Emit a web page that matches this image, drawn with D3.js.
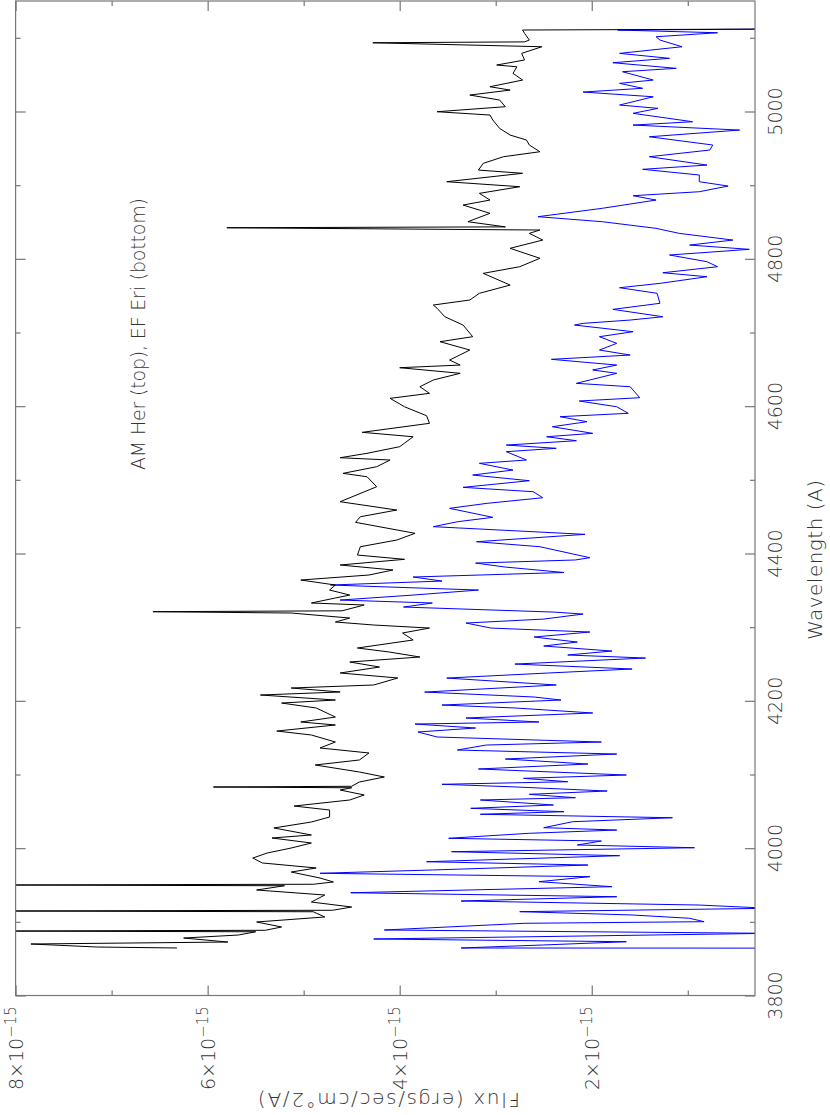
<!DOCTYPE html>
<html>
<head>
<meta charset="utf-8">
<script src="https://cdn.jsdelivr.net/npm/d3@7"></script>
<style>
  body { margin: 0; background: #fff; }
  svg { display: block; }
  text { font-family: "DejaVu Sans ExtraLight", "DejaVu Sans", sans-serif; font-weight: 200; fill: #333; }
</style>
</head>
<body>
<svg id="chart"></svg>
<script>
// AM Her spectrum (black, top)
const amHerWave = [3864.5,3865.8,3869.9,3872.6,3878.0,3882.1,3886.5,3887.5,3888.5,3893.0,3899.8,3906.6,3913.7,3914.7,3915.7,3920.1,3926.9,3936.4,3943.2,3949.0,3950.0,3951.0,3954.1,3959.5,3967.6,3973.1,3979.9,3986.6,3993.4,4000.2,4007.0,4013.8,4017.9,4027.4,4035.5,4042.3,4051.8,4057.2,4065.4,4072.2,4078.9,4082.0,4083.0,4084.0,4089.8,4096.6,4103.4,4112.9,4119.7,4129.2,4136.0,4144.1,4153.6,4159.0,4167.2,4171.3,4178.0,4190.3,4197.0,4201.1,4207.9,4212.0,4217.4,4221.5,4231.0,4237.8,4245.9,4252.7,4259.5,4266.3,4271.7,4282.6,4292.1,4298.8,4302.9,4307.0,4312.4,4319.2,4321.0,4322.2,4330.1,4332.8,4339.6,4343.6,4350.4,4357.2,4364.0,4370.8,4377.6,4384.4,4392.1,4397.9,4409.2,4418.3,4427.4,4442.3,4449.9,4459.0,4470.3,4490.6,4504.2,4508.8,4517.8,4526.9,4530.0,4536.0,4545.0,4558.5,4564.5,4576.7,4587.0,4599.2,4610.6,4617.4,4626.4,4635.5,4644.6,4652.2,4655.8,4662.6,4676.2,4687.5,4694.3,4710.1,4721.4,4732.8,4737.3,4744.1,4753.2,4764.4,4780.3,4789.3,4800.7,4814.3,4825.5,4834.6,4839.1,4842.2,4843.4,4850.4,4861.8,4873.0,4879.8,4888.9,4897.9,4904.7,4916.1,4920.5,4929.6,4938.6,4945.4,4954.5,4961.3,4968.0,4977.1,4988.4,4995.2,4999.7,5006.5,5015.6,5022.3,5029.1,5033.6,5042.7,5051.8,5060.7,5063.1,5069.9,5078.9,5087.9,5093.3,5094.5,5097.0,5106.1,5110.6,5112.0];
const amHerFlux = [6.32,7.15,7.84,5.79,6.25,5.68,5.5,8.3,5.4,5.23,5.49,4.78,4.9,8.3,4.7,4.50,4.92,4.78,5.49,5.2,8.3,4.9,4.69,4.83,5.13,4.87,5.43,5.53,5.38,5.13,4.92,5.33,4.92,5.31,4.92,4.73,4.73,5.10,4.52,4.37,4.62,4.5,5.94,4.5,4.42,4.16,4.42,4.88,4.42,4.32,4.83,4.67,4.92,5.28,4.67,5.03,4.67,4.87,5.23,4.67,5.45,4.62,5.13,4.27,4.02,4.62,4.21,4.52,3.79,4.11,4.44,3.86,3.97,3.69,4.27,4.67,4.52,5.13,6.57,4.6,4.37,4.92,4.67,4.52,4.73,4.67,5.03,4.32,4.07,4.62,3.95,4.44,4.41,4.03,3.84,4.46,4.41,4.03,4.62,4.24,4.34,4.59,4.24,4.10,4.62,4.34,4.00,3.86,4.39,3.69,3.72,3.95,4.10,3.69,3.79,3.65,3.37,4.00,3.37,3.48,3.27,3.58,3.24,3.34,3.53,3.61,3.65,3.27,3.17,2.85,3.13,2.75,2.54,2.85,2.51,2.65,2.54,5.80,2.9,3.29,3.06,3.34,3.06,3.17,2.75,3.51,2.72,3.18,3.13,2.92,2.54,2.65,2.68,2.85,2.96,3.03,3.06,3.61,2.90,2.96,3.27,2.85,3.06,2.72,2.82,2.78,2.99,2.70,2.73,2.52,4.28,2.7,2.65,2.70,2.72,0];

// EF Eri spectrum (blue, bottom)
const efEriWave = [3864.3,3864.5,3868.6,3873.0,3876.7,3884.4,3888.9,3898.0,3900.2,3904.8,3909.3,3913.8,3918.4,3922.8,3928.3,3934.1,3939.5,3947.7,3954.5,3961.3,3965.9,3970.4,3977.1,3981.6,3989.8,3995.2,4000.6,4004.3,4009.7,4013.4,4020.2,4024.6,4027.8,4035.9,4041.3,4046.0,4049.5,4054.1,4058.6,4065.4,4068.5,4073.1,4077.6,4083.4,4086.7,4090.2,4094.8,4099.3,4107.5,4114.2,4121.0,4127.8,4133.2,4140.0,4144.1,4150.9,4157.7,4163.1,4168.5,4171.3,4176.7,4183.5,4190.3,4194.3,4201.1,4205.2,4211.9,4221.5,4230.9,4237.8,4243.2,4249.9,4258.1,4262.2,4267.6,4274.4,4279.8,4286.6,4293.4,4298.8,4305.6,4311.0,4317.8,4320.5,4327.3,4332.8,4336.8,4343.6,4350.4,4357.2,4362.6,4368.1,4374.2,4381.6,4387.0,4391.2,4394.3,4409.2,4416.0,4426.0,4436.4,4443.1,4449.1,4461.3,4468.1,4475.7,4483.9,4489.8,4498.8,4506.5,4513.3,4522.4,4526.9,4538.2,4542.8,4547.2,4553.1,4558.5,4563.1,4572.1,4578.9,4585.7,4590.3,4599.2,4607.0,4611.5,4626.4,4631.0,4644.6,4649.1,4655.8,4663.6,4669.4,4676.2,4685.3,4694.3,4701.1,4710.1,4712.4,4716.9,4721.4,4731.4,4739.6,4753.2,4760.8,4766.7,4775.7,4781.1,4789.3,4796.1,4805.2,4812.9,4818.7,4825.5,4834.6,4841.4,4850.4,4857.2,4868.6,4879.8,4885.7,4891.1,4898.8,4904.7,4913.8,4921.5,4927.3,4938.6,4947.7,4954.5,4965.7,4974.8,4981.6,4986.1,4997.5,5004.3,5008.8,5020.0,5026.4,5031.5,5038.2,5042.7,5054.0,5058.6,5066.2,5072.2,5078.9,5087.9,5097.0,5101.5,5106.9,5110.6,5112.0];
const efEriFlux = [0,3.36,2.50,1.64,4.27,0.15,4.16,2.70,0.83,0.98,1.58,2.75,0.15,0.88,3.36,1.74,4.51,1.79,2.55,2.02,4.83,3.66,2.04,3.72,1.71,3.46,0.93,2.15,1.90,3.49,2.65,1.74,2.50,2.20,1.16,3.16,2.29,3.26,2.40,3.16,2.17,2.65,1.84,2.85,3.56,2.25,2.71,1.64,3.18,2.04,2.90,1.74,3.40,3.10,1.90,3.61,3.81,3.21,3.84,2.55,3.31,1.99,2.80,3.56,2.32,2.60,3.74,2.37,3.51,2.45,1.58,2.80,1.44,2.25,1.79,2.50,2.15,2.60,2.02,3.05,3.31,2.50,2.09,2.40,3.96,3.66,4.62,3.86,3.18,4.72,3.56,3.86,2.29,2.90,3.21,2.17,2.02,2.54,3.20,2.07,3.65,3.40,3.03,3.48,3.09,2.51,2.61,3.34,2.65,3.24,2.82,3.17,2.68,2.89,2.37,2.89,2.16,2.47,1.99,2.41,2.05,2.33,1.62,1.74,2.13,1.50,1.60,2.16,1.74,1.99,1.74,2.42,1.60,1.92,1.74,1.92,1.57,2.18,2.09,1.60,1.26,1.78,1.29,1.32,1.71,1.29,0.80,1.26,0.69,0.80,1.19,0.36,0.98,0.53,1.09,1.33,1.89,2.56,1.89,1.33,1.57,0.88,0.58,0.88,0.88,1.47,0.80,1.40,0.77,0.74,1.40,0.46,1.57,0.95,1.57,1.31,1.71,1.36,2.09,1.47,1.71,1.36,1.68,1.12,1.78,1.19,1.71,1.06,1.29,1.33,0.69,1.73,0];

// axis ticks (wavelength in A, flux in units of 1e-15)
const waveMajor = [3800, 4000, 4200, 4400, 4600, 4800, 5000];
const waveMinor = [3900, 4100, 4300, 4500, 4700, 4900, 5100];
const fluxMajor = [2, 4, 6, 8];
const fluxMinor = [1, 3, 5, 7];

const width = 830, height = 1115;
const frame = { left: 15.6, right: 755, top: 1, bottom: 995.5 };

const svg = d3.select('#chart')
  .attr('width', width)
  .attr('height', height);

// the plot is drawn "on its side": wavelength runs up the page, flux runs leftwards
const y = d3.scaleLinear().domain([3800, 5150]).range([frame.bottom, frame.top]);
const x = d3.scaleLinear().domain([0.3, 8]).range([frame.right, frame.left]);

svg.append('defs').append('clipPath').attr('id', 'plotclip')
  .append('rect')
  .attr('x', frame.left).attr('y', frame.top)
  .attr('width', frame.right - frame.left)
  .attr('height', frame.bottom - frame.top);

const line = d3.line()
  .x(d => x(d[1]))
  .y(d => y(d[0]));

const plot = svg.append('g').attr('clip-path', 'url(#plotclip)');

plot.append('path')
  .datum(d3.zip(efEriWave, efEriFlux))
  .attr('fill', 'none')
  .attr('stroke', '#0000ff')
  .attr('stroke-width', 1)
  .attr('d', line);

plot.append('path')
  .datum(d3.zip(amHerWave, amHerFlux))
  .attr('fill', 'none')
  .attr('stroke', '#000')
  .attr('stroke-width', 1)
  .attr('d', line);

// frame
svg.append('rect')
  .attr('x', frame.left).attr('y', frame.top)
  .attr('width', frame.right - frame.left)
  .attr('height', frame.bottom - frame.top)
  .attr('fill', 'none')
  .attr('stroke', '#777')
  .attr('stroke-width', 1.2);

// inward ticks on all four sides
function ticks(axis, values, size, tr) {
  const g = svg.append('g')
    .attr('transform', tr)
    .call(axis.tickValues(values).tickSize(-size).tickFormat(''));
  g.select('.domain').remove();
  g.selectAll('line').attr('stroke', '#777').attr('stroke-width', 1.2);
}
ticks(d3.axisRight(y), waveMajor, 10, `translate(${frame.right},0)`);
ticks(d3.axisRight(y), waveMinor, 5, `translate(${frame.right},0)`);
ticks(d3.axisLeft(y), waveMajor, 10, `translate(${frame.left},0)`);
ticks(d3.axisLeft(y), waveMinor, 5, `translate(${frame.left},0)`);
ticks(d3.axisBottom(x), fluxMajor, 10, `translate(0,${frame.bottom})`);
ticks(d3.axisBottom(x), fluxMinor, 5, `translate(0,${frame.bottom})`);
ticks(d3.axisTop(x), fluxMajor, 10, `translate(0,${frame.top})`);
ticks(d3.axisTop(x), fluxMinor, 5, `translate(0,${frame.top})`);

// wavelength tick labels (rotated)
svg.append('g').selectAll('text')
  .data(waveMajor)
  .enter().append('text')
  .attr('transform', d => `translate(782,${y(d)}) rotate(-90)`)
  .attr('text-anchor', 'middle')
  .style('font-size', '19px')
  .text(d => d);

// flux tick labels (rotated, with exponent)
const fl = svg.append('g').selectAll('text')
  .data(fluxMajor)
  .enter().append('text')
  .attr('transform', d => `translate(${x(d) + 7},1090) rotate(-90)`)
  .attr('text-anchor', 'start')
  .style('font-size', '19px');
fl.append('tspan').text(d => `${d}×10`);
fl.append('tspan').attr('dy', -7).style('font-size', '15px').text('−15');

// axis titles
svg.append('text')
  .attr('transform', `translate(822,560) rotate(-90)`)
  .attr('text-anchor', 'middle')
  .attr('textLength', 160)
  .attr('lengthAdjust', 'spacing')
  .style('font-size', '20px')
  .text('Wavelength (A)');

svg.append('text')
  .attr('transform', `translate(389,1093) rotate(180)`)
  .attr('text-anchor', 'middle')
  .attr('textLength', 262)
  .attr('lengthAdjust', 'spacing')
  .style('font-size', '20px')
  .text('Flux (ergs/sec/cm°2/A)');

// annotation
svg.append('text')
  .attr('transform', `translate(145,334) rotate(-90)`)
  .attr('text-anchor', 'middle')
  .attr('textLength', 272)
  .attr('lengthAdjust', 'spacing')
  .style('font-size', '19px')
  .text('AM Her (top), EF Eri (bottom)');
</script>
</body>
</html>
